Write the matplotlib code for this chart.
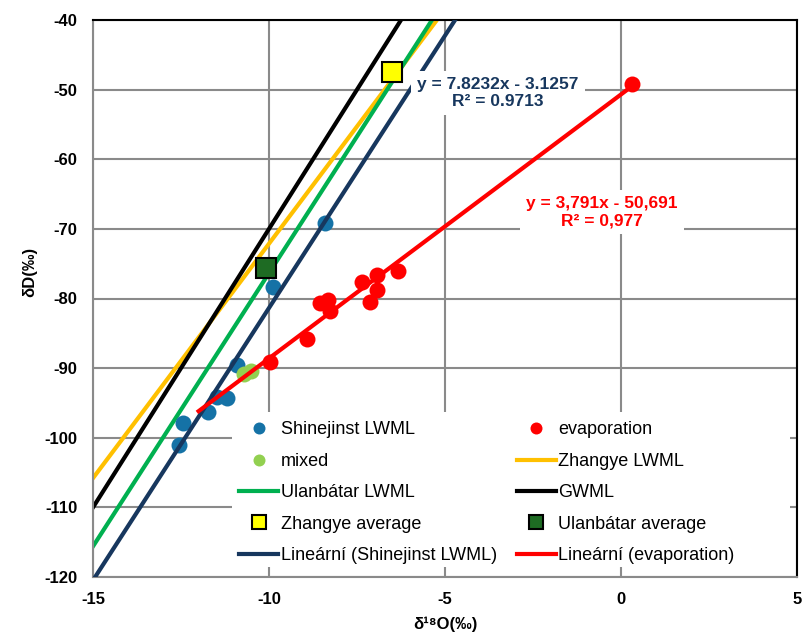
import numpy as np
import matplotlib
matplotlib.use("Agg")
from matplotlib import pyplot as plt
from matplotlib.patches import Rectangle

plt.rcParams['font.family'] = ['Liberation Sans', 'DejaVu Sans']

# sample points
shin_x = [-8.41, -9.89, -10.91, -11.48, -11.19, -11.73, -12.44, -12.56]
shin_y = [-69.2, -78.4, -89.6, -94.2, -94.3, -96.3, -97.9, -101.1]

mixed_x = [-10.7, -10.5]
mixed_y = [-90.8, -90.4]

evap_x = [0.31, -9.97, -8.92, -8.55, -8.32, -8.27, -7.36, -6.93, -6.93, -7.13, -6.34]
evap_y = [-49.2, -89.1, -85.8, -80.7, -80.2, -81.8, -77.6, -76.6, -78.8, -80.5, -76.1]

# meteoric water lines (end points)
zhangye_x = [-15.0, -5.23]
zhangye_y = [-105.8, -40.0]
ulan_x = [-15.0, -5.37]
ulan_y = [-115.6, -40.0]
gwml_x = [-15.0, -6.25]
gwml_y = [-110.0, -40.0]

# averages
zhangye_avg = (-6.5, -47.4)
ulan_avg = (-10.09, -75.6)

# trendlines (Excel)
shin_fit = (7.8232, -3.1257)
shin_fit_x = [-15.0, -4.5]
evap_fit = (3.791, -50.691)
evap_fit_x = [-12.0, 0.31]

x_ticks = [-15, -10, -5, 0, 5]
y_ticks = [-40, -50, -60, -70, -80, -90, -100, -110, -120]

BLUE = "#1572A6"
NAVY = "#17375E"
GRID = "#8A8A8A"

fig = plt.figure(figsize=(8.05, 6.33), dpi=100)
ax = fig.add_axes([93/805, 1-577/633, 704/805, 557/633])

ax.set_xlim(-15, 5)
ax.set_ylim(-120, -40)
ax.set_xticks(x_ticks)
ax.set_xticklabels([str(t) for t in x_ticks], fontsize=12, fontweight='bold')
ax.set_yticks(y_ticks)
ax.set_yticklabels([str(t) for t in y_ticks], fontsize=12, fontweight='bold')
ax.tick_params(length=0, pad=11)
ax.grid(True, color=GRID, lw=1.5, zorder=0)
ax.set_axisbelow(True)
for side in ['left', 'bottom']:
    ax.spines[side].set_color(GRID)
    ax.spines[side].set_linewidth(1.5)
for side in ['top', 'right']:
    ax.spines[side].set_color('black')
    ax.spines[side].set_linewidth(1.5)

h_shin, = ax.plot(shin_x, shin_y, 'o', color=BLUE, ms=11.5, mec='none', zorder=3,
                  label='Shinejinst LWML')
h_mixed, = ax.plot(mixed_x, mixed_y, 'o', color='#92D050', ms=11.5, mec='none', zorder=3,
                   label='mixed')
h_evap, = ax.plot(evap_x, evap_y, 'o', color='#FF0000', ms=11.5, mec='none', zorder=3,
                  label='evaporation')
h_zh, = ax.plot(zhangye_x, zhangye_y, '-', color='#FFC000', lw=3, zorder=2,
                label='Zhangye LWML')
h_ul, = ax.plot(ulan_x, ulan_y, '-', color='#00B050', lw=3, zorder=2,
                label='Ulanbátar LWML')
h_gw, = ax.plot(gwml_x, gwml_y, '-', color='black', lw=3, zorder=2, label='GWML')
h_zha, = ax.plot([zhangye_avg[0]], [zhangye_avg[1]], 's', color='#FFFF00', mec='black',
                 mew=1.5, ms=14, zorder=4, label='Zhangye average')
h_ula, = ax.plot([ulan_avg[0]], [ulan_avg[1]], 's', color='#1E6B23', mec='black',
                 mew=1.5, ms=14, zorder=4, label='Ulanbátar average')

xs = np.array(shin_fit_x)
h_sfit, = ax.plot(xs, shin_fit[0] * xs + shin_fit[1], '-', color=NAVY, lw=3, zorder=3,
                  label='Lineární (Shinejinst LWML)')
xe = np.array(evap_fit_x)
h_efit, = ax.plot(xe, evap_fit[0] * xe + evap_fit[1], '-', color='#FF0000', lw=3, zorder=3,
                  label='Lineární (evaporation)')

ax.text(-3.49, -50.5, "y = 7.8232x - 3.1257\nR² = 0.9713", color=NAVY, fontsize=12.5,
        fontweight='bold', ha='center', va='center', linespacing=1.15, zorder=5,
        bbox=dict(boxstyle='square,pad=0.35', fc='white', ec='none'))
ax.text(-0.54, -67.6, "y = 3,791x - 50,691\nR² = 0,977", color='#FF0000', fontsize=12.5,
        fontweight='bold', ha='center', va='center', linespacing=1.15, zorder=5,
        bbox=dict(boxstyle='square,pad=0.35', fc='white', ec='none'))

# white legend area (Excel legend box is wider than its text)
ax.add_patch(Rectangle(((232-93)/704, (577-567)/557), (790-232)/704, (567-412)/557,
                       transform=ax.transAxes, fc='white', ec='none', zorder=9))

# Excel fills the legend row by row, matplotlib column by column
handles = [h_shin, h_mixed, h_ul, h_zha, h_sfit, h_evap, h_zh, h_gw, h_ula, h_efit]
leg = ax.legend(handles=handles, ncol=2, loc='upper left',
                bbox_to_anchor=((234-93)/704, (577-416)/557), fontsize=13,
                frameon=False, handlelength=2.15, handletextpad=0.15,
                columnspacing=1.1, labelspacing=0.8, borderpad=0.3,
                markerscale=0.75, borderaxespad=0)
leg.set_zorder(10)

ax.set_xlabel("δ¹⁸O(‰)", fontsize=12, fontweight='bold', va='center')
ax.xaxis.set_label_coords((445-93)/704, -(624-577)/557)
ax.set_ylabel("δD(‰)", fontsize=12, fontweight='bold', va='center')
ax.yaxis.set_label_coords(-(93-30)/704, (577-272)/557)

fig.savefig("out.png", dpi=100)
